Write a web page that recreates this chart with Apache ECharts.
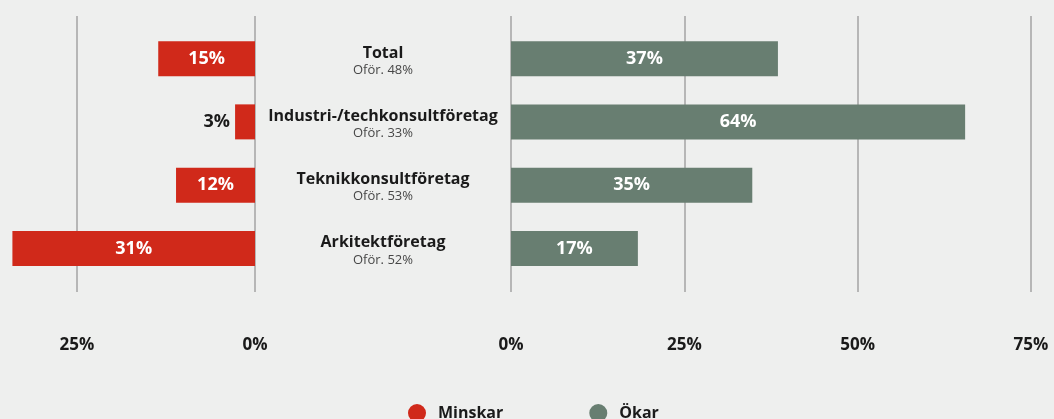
<!DOCTYPE html>
<html>
<head>
<meta charset="utf-8">
<script src="https://cdn.jsdelivr.net/npm/echarts@6/dist/echarts.min.js"></script>
<style>
  html, body { margin: 0; padding: 0; background: #eeefee; }
  #chart { width: 1054px; height: 419px; }
</style>
</head>
<body>
<div id="chart"></div>
<script>
// data
const categories = ["Total", "Industri-/techkonsultföretag", "Teknikkonsultföretag", "Arkitektföretag"];
const unchanged = ["Oför. 48%", "Oför. 33%", "Oför. 53%", "Oför. 52%"];
const minskar = [13.6, 2.8, 11.1, 34.1];
const minskarLabels = ["15%", "3%", "12%", "31%"];
const okar = [38.5, 65.5, 34.8, 18.3];
const okarLabels = ["37%", "64%", "35%", "17%"];

const RED = "#d0291a";
const GREEN = "#687e71";
const INK = "#1a1a1a";
const FONT = "Open Sans";

var chartDom = document.getElementById("chart");
var myChart = echarts.init(chartDom, null, { renderer: "canvas" });

const barLabel = {
  show: true,
  position: "inside",
  color: "#fff",
  fontFamily: FONT,
  fontWeight: "bold",
  fontSize: 18,
};

const tickLabel = { formatter: "{value}%", margin: 45, color: INK, fontFamily: FONT, fontWeight: "bold", fontSize: 17 };

var option = {
  backgroundColor: "#eeefee",
  animation: false,
  legend: {
    data: ["Minskar", "Ökar"],
    icon: "circle",
    itemWidth: 18,
    itemHeight: 18,
    itemGap: 86,
    left: 403,
    top: 399,
    textStyle: { fontFamily: FONT, fontWeight: "bold", fontSize: 16, color: INK, padding: [0, 0, 0, 7] },
  },
  grid: [
    // bar grids
    { left: 6, right: 799, top: 27, bottom: 139 },
    { left: 511, right: 23, top: 27, bottom: 139 },
    // axis grids (gridlines + tick labels)
    { left: 77, right: 799, top: 16, bottom: 127 },
    { left: 511, right: 23, top: 16, bottom: 127 },
  ],
  xAxis: [
    { gridIndex: 0, type: "value", inverse: true, min: 0, max: 35, show: false },
    { gridIndex: 1, type: "value", min: 0, max: 75, show: false },
    {
      gridIndex: 2, type: "value", inverse: true, min: 0, max: 25, interval: 25,
      axisLine: { show: false }, axisTick: { show: false },
      splitLine: { show: true, lineStyle: { color: "#a3a3a3", width: 1.5 } },
      axisLabel: tickLabel,
    },
    {
      gridIndex: 3, type: "value", min: 0, max: 75, interval: 25,
      axisLine: { show: false }, axisTick: { show: false },
      splitLine: { show: true, lineStyle: { color: "#a3a3a3", width: 1.5 } },
      axisLabel: tickLabel,
    },
  ],
  yAxis: [
    { gridIndex: 0, type: "category", inverse: true, data: categories, show: false },
    {
      gridIndex: 1, type: "category", inverse: true, data: categories,
      axisLine: { show: false }, axisTick: { show: false },
      axisLabel: {
        margin: 128,
        align: "center",
        padding: [5, 0, 0, 0],
        formatter: (v, i) => "{a|" + v + "}\n{b|" + unchanged[i] + "}",
        rich: {
          a: { fontFamily: FONT, fontWeight: "bold", fontSize: 16, color: INK, lineHeight: 18, align: "center" },
          b: { fontFamily: FONT, fontSize: 13, color: "#474747", lineHeight: 16, align: "center" },
        },
      },
    },
    { gridIndex: 2, type: "value", show: false },
    { gridIndex: 3, type: "value", show: false },
  ],
  series: [
    {
      name: "Minskar",
      type: "bar",
      xAxisIndex: 0,
      yAxisIndex: 0,
      barWidth: 35,
      itemStyle: { color: RED },
      data: minskar.map((v, i) => ({
        value: v,
        label: v < 5
          ? { show: true, position: "left", distance: 5, color: INK, fontFamily: FONT, fontWeight: "bold", fontSize: 18, formatter: minskarLabels[i] }
          : Object.assign({}, barLabel, { formatter: minskarLabels[i] }),
      })),
    },
    {
      name: "Ökar",
      type: "bar",
      xAxisIndex: 1,
      yAxisIndex: 1,
      barWidth: 35,
      itemStyle: { color: GREEN },
      data: okar.map((v, i) => ({
        value: v,
        label: Object.assign({}, barLabel, { formatter: okarLabels[i] }),
      })),
    },
  ],
};

myChart.setOption(option);
</script>
</body>
</html>
